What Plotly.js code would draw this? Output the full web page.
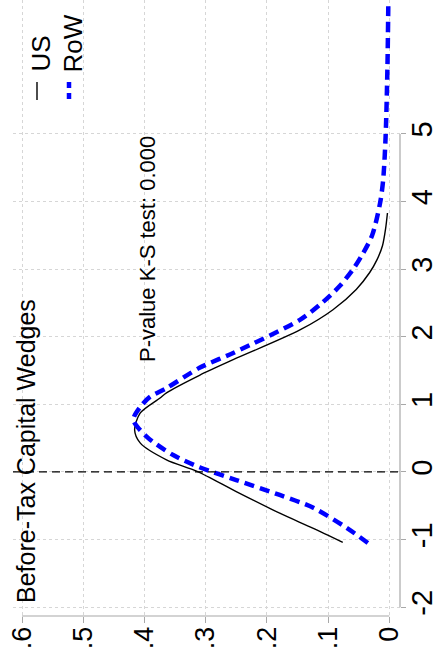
<!DOCTYPE html>
<html>
<head>
<meta charset="utf-8">
<script src="https://cdn.plot.ly/plotly-3.0.1.min.js"></script>
<style>html,body{margin:0;padding:0;background:#fff;}#chart{width:437px;height:651px;}</style>
</head>
<body>
<div id="chart"></div>
<script>
// Data (rotated Stata kdensity chart): value = wedge, density = kernel density
const usValue   = [-1.04, -0.83, -0.61, -0.29, 0.01, 0.18, 0.43, 0.62, 0.87, 1.09, 1.17, 1.43, 1.66, 2.10, 2.40, 2.70, 2.95, 3.14, 3.35, 3.60, 3.83];
const usDensity = [0.076, 0.125, 0.179, 0.250, 0.314, 0.364, 0.407, 0.416, 0.407, 0.375, 0.364, 0.310, 0.255, 0.146, 0.092, 0.054, 0.032, 0.020, 0.011, 0.006, 0.003];
const rowValue   = [-1.05, -0.83, -0.53, -0.34, -0.12, 0.07, 0.25, 0.52, 0.77, 0.96, 1.11, 1.24, 1.54, 1.76, 2.25, 2.50, 2.75, 3.00, 3.20, 3.50, 3.98, 4.32, 4.96, 6.00, 7.00];
const rowDensity = [0.035, 0.069, 0.124, 0.179, 0.250, 0.310, 0.353, 0.396, 0.418, 0.407, 0.391, 0.364, 0.310, 0.255, 0.146, 0.110, 0.081, 0.059, 0.045, 0.028, 0.015, 0.010, 0.006, 0.003, 0.0015];
const densityTicks = [0.6, 0.5, 0.4, 0.3, 0.2, 0.1, 0];
const densityTickText = [".6", ".5", ".4", ".3", ".2", ".1", "0"];
const valueTicks = [-2, -1, 0, 1, 2, 3, 4, 5];
const valueTickText = ["-2", "-1", "0", "1", "2", "3", "4", "5"];
const refLine = 0;
const seriesNames = ["US", "RoW"];
const chartTitle = "Before-Tax Capital Wedges";
const noteText = "P-value K-S test: 0.000";

const FONT = "Liberation Sans, Arial, Helvetica, sans-serif";
const W = 437, H = 651, ML = 13, MR = 37, MT = 0, MB = 35;
const PW = W - ML - MR, PH = H - MT - MB;
const px = (x) => (x - ML) / PW;         // pixel -> paper x
const py = (y) => (H - MB - y) / PH;     // pixel -> paper y

const traces = [
  {x: usDensity, y: usValue, type: 'scatter', mode: 'lines', name: seriesNames[0],
   line: {color: '#000000', width: 1.4, shape: 'spline', smoothing: 0.8}, hoverinfo: 'skip'},
  {x: rowDensity, y: rowValue, type: 'scatter', mode: 'lines', name: seriesNames[1],
   line: {color: '#0000ff', width: 4.5, dash: '10px,6px', shape: 'spline', smoothing: 0.8}, hoverinfo: 'skip'}
];

const axisGray = '#a8a8a8';
const layout = {
  width: W, height: H,
  margin: {l: ML, r: MR, t: MT, b: MB, pad: 0},
  paper_bgcolor: '#ffffff', plot_bgcolor: '#ffffff',
  showlegend: false,
  font: {family: FONT, color: '#000'},
  xaxis: {
    range: [0.6147, -0.0175], tickvals: densityTicks, ticktext: densityTickText,
    tickangle: -90, tickfont: {size: 27, family: FONT, color: '#000'},
    ticks: 'outside', ticklen: 6, tickcolor: axisGray, tickwidth: 1, ticklabelstandoff: -7,
    showgrid: true, gridcolor: '#d6d6d6', griddash: 'dot', gridwidth: 1,
    zeroline: false, showline: false, fixedrange: true
  },
  yaxis: {
    range: [-2.13, 6.98], side: 'right', tickvals: valueTicks, ticktext: valueTickText,
    tickangle: -90, tickfont: {size: 29, family: FONT, color: '#000'},
    ticks: 'outside', ticklen: 5, tickcolor: axisGray, tickwidth: 1, ticklabelstandoff: -9,
    showgrid: true, gridcolor: '#d6d6d6', griddash: 'dot', gridwidth: 1,
    zeroline: false, showline: false, fixedrange: true
  },
  shapes: [
    // reference line at value 0
    {type: 'line', xref: 'paper', yref: 'y', x0: 0, x1: 1, y0: refLine, y1: refLine,
     line: {color: '#000', width: 1.2, dash: '8px,5px'}},
    // Stata-style axis lines spanning tick range
    {type: 'line', xref: 'paper', yref: 'y', x0: 1, x1: 1,
     y0: Math.min(...valueTicks), y1: Math.max(...valueTicks), line: {color: axisGray, width: 1.2}},
    {type: 'line', xref: 'x', yref: 'paper', y0: 0, y1: 0,
     x0: Math.min(...densityTicks), x1: Math.max(...densityTicks), line: {color: axisGray, width: 1.2}},
    // legend keys
    {type: 'line', xref: 'paper', yref: 'paper', x0: px(37), x1: px(37), y0: py(82), y1: py(100),
     line: {color: '#000', width: 1.4}},
    {type: 'line', xref: 'paper', yref: 'paper', x0: px(69), x1: px(69), y0: py(82), y1: py(100),
     line: {color: '#0000ff', width: 4.5, dash: '6px,5px'}}
  ],
  annotations: [
    {text: chartTitle, xref: 'paper', yref: 'paper', x: px(26), y: py(451), textangle: -90,
     showarrow: false, xanchor: 'center', yanchor: 'middle', font: {size: 25, family: FONT, color: '#000'}},
    {text: noteText, xref: 'paper', yref: 'paper', x: px(147), y: py(249), textangle: -90,
     showarrow: false, xanchor: 'center', yanchor: 'middle', font: {size: 22, family: FONT, color: '#000'}},
    {text: seriesNames[0], xref: 'paper', yref: 'paper', x: px(40), y: py(53.5), textangle: -90,
     showarrow: false, xanchor: 'center', yanchor: 'middle', font: {size: 26, family: FONT, color: '#000'}},
    {text: seriesNames[1], xref: 'paper', yref: 'paper', x: px(73), y: py(43.5), textangle: -90,
     showarrow: false, xanchor: 'center', yanchor: 'middle', font: {size: 26, family: FONT, color: '#000'}}
  ]
};

Plotly.newPlot('chart', traces, layout, {staticPlot: true, displayModeBar: false});
</script>
</body>
</html>
